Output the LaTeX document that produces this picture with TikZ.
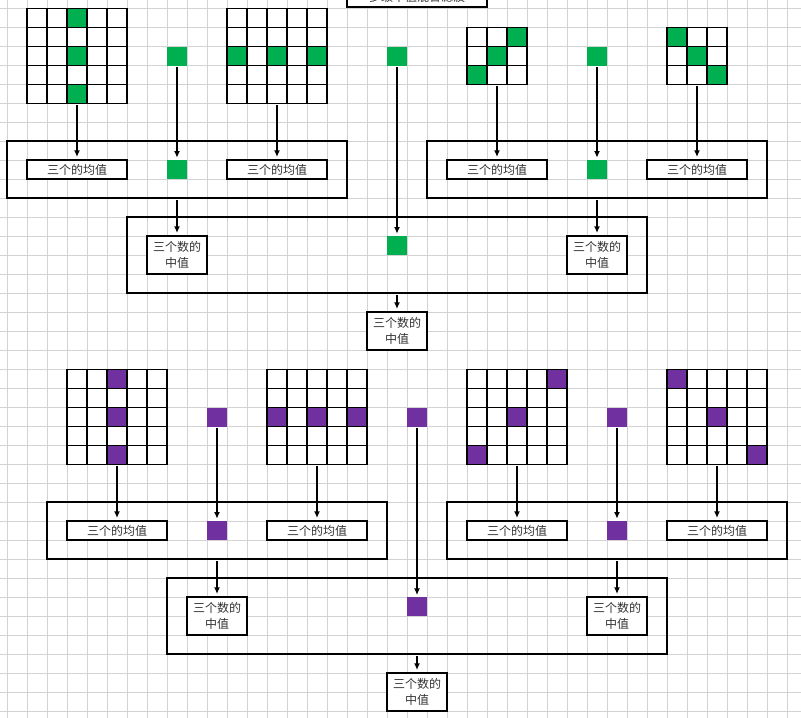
\documentclass[tikz,border=0pt]{standalone}
\usepackage{fontspec}
\newfontfamily\cjk{Noto Sans CJK SC}
\usetikzlibrary{arrows.meta}
\definecolor{grn}{HTML}{00B050}
\definecolor{pur}{HTML}{7030A0}
\definecolor{txt}{HTML}{333333}
\definecolor{bggrid}{HTML}{D3D3D3}

\begin{document}
\begin{tikzpicture}[x=0.75pt,y=-0.75pt]
\tikzset{bg/.style={draw=bggrid,line width=0.75pt},
         cell/.style={draw,fill=white,line width=0.9pt},
         mat/.style={draw=none,inner sep=0pt},
         sq/.style={inner sep=0pt,minimum width=15pt,minimum height=14.25pt},
         frm/.style={draw,line width=1.5pt,inner sep=0pt},
         avg/.style={draw,fill=white,line width=1.5pt,inner sep=0pt,minimum width=75pt,minimum height=14.25pt,
                     font=\cjk\fontsize{9}{11}\selectfont,text=txt},
         med/.style={draw,fill=white,line width=1.5pt,inner sep=0pt,minimum width=45pt,minimum height=28.5pt,
                     align=center,font=\cjk\fontsize{9}{11.5}\selectfont,text=txt},
         arr/.style={-{Latex[length=5pt,width=4.5pt]},line width=1.4pt,shorten <=1pt,shorten >=1.5pt}}
\clip (0,0) rectangle (801,718);
% background grid
\foreach \k in {0,...,39} \draw[bg] ({7+20*\k},0) -- ({7+20*\k},718);
\foreach \k in {0,...,37} \draw[bg] (0,{8.3+19*\k}) -- (801,{8.3+19*\k});

\node[frm,fill=white,minimum width=105pt,minimum height=15pt,font=\cjk\fontsize{9}{11}\selectfont,text=txt] (title) at (417,-3) {多级中值混合滤波};

% windows
\foreach \x/\y/\n in {27/8.3/5,227/8.3/5,467/27.3/3,667/27.3/3,67/369.3/5,267/369.3/5,467/369.3/5,667/369.3/5}
  \foreach \i in {1,...,\n} \foreach \j in {1,...,\n}
    \draw[cell] ({\x+20*(\i-1)},{\y+19*(\j-1)}) rectangle ++(20,19);
\foreach \x/\y in {67/8.3,67/46.3,67/84.3,227/46.3,267/46.3,307/46.3,507/27.3,487/46.3,467/65.3,667/27.3,687/46.3,707/65.3}
  \draw[cell,fill=grn] (\x,\y) rectangle ++(20,19);
\foreach \x/\y in {107/369.3,107/407.3,107/445.3,267/407.3,307/407.3,347/407.3,547/369.3,507/407.3,467/445.3,667/369.3,707/407.3,747/445.3}
  \draw[cell,fill=pur] (\x,\y) rectangle ++(20,19);
\node[mat,minimum width=75pt,minimum height=71.25pt] (m1) at (77,55.8) {};
\node[mat,minimum width=75pt,minimum height=71.25pt] (m2) at (277,55.8) {};
\node[mat,minimum width=45pt,minimum height=42.75pt] (m3) at (497,55.8) {};
\node[mat,minimum width=45pt,minimum height=42.75pt] (m4) at (697,55.8) {};
\node[mat,minimum width=75pt,minimum height=71.25pt] (m5) at (117,416.8) {};
\node[mat,minimum width=75pt,minimum height=71.25pt] (m6) at (317,416.8) {};
\node[mat,minimum width=75pt,minimum height=71.25pt] (m7) at (517,416.8) {};
\node[mat,minimum width=75pt,minimum height=71.25pt] (m8) at (717,416.8) {};

% upper half
\node[sq,fill=grn] (q1) at (177,56.2) {};
\node[sq,fill=grn] (q2) at (397,56.2) {};
\node[sq,fill=grn] (q3) at (597,56.2) {};
\node[frm,minimum width=255pt,minimum height=42.75pt] (f1) at (177,169.5) {};
\node[frm,minimum width=255pt,minimum height=42.75pt] (f2) at (597,169.5) {};
\node[avg] (a1) at (77,169.5) {三个的均值};
\node[sq,fill=grn] (s1) at (177,169.5) {};
\node[avg] (a2) at (277,169.5) {三个的均值};
\node[avg] (a3) at (497,169.5) {三个的均值};
\node[sq,fill=grn] (s2) at (597,169.5) {};
\node[avg] (a4) at (697,169.5) {三个的均值};
\node[frm,minimum width=390pt,minimum height=57pt] (g1) at (387,255) {};
\node[med] (d1) at (177,255) {三个数的\\中值};
\node[sq,fill=grn] (s3) at (397,245.5) {};
\node[med] (d2) at (597,255) {三个数的\\中值};
\node[med] (e1) at (397,331) {三个数的\\中值};
\draw[arr] (m1) -- (a1);
\draw[arr] (q1) -- (s1);
\draw[arr] (m2) -- (a2);
\draw[arr] (m3) -- (a3);
\draw[arr] (q3) -- (s2);
\draw[arr] (m4) -- (a4);
\draw[arr] (f1) -- (d1);
\draw[arr] (q2) -- (s3);
\draw[arr] (f2) -- (d2);
\draw[arr] (g1.south -| e1) -- (e1);

% lower half
\node[sq,fill=pur] (p1) at (217,417.2) {};
\node[sq,fill=pur] (p2) at (417,417.2) {};
\node[sq,fill=pur] (p3) at (617,417.2) {};
\node[frm,minimum width=255pt,minimum height=42.75pt] (h1) at (217,530.5) {};
\node[frm,minimum width=255pt,minimum height=42.75pt] (h2) at (617,530.5) {};
\node[avg] (b1) at (117,530.5) {三个的均值};
\node[sq,fill=pur] (r1) at (217,530.5) {};
\node[avg] (b2) at (317,530.5) {三个的均值};
\node[avg] (b3) at (517,530.5) {三个的均值};
\node[sq,fill=pur] (r2) at (617,530.5) {};
\node[avg] (b4) at (717,530.5) {三个的均值};
\node[frm,minimum width=375pt,minimum height=57pt] (g2) at (417,616) {};
\node[med] (c1) at (217,616) {三个数的\\中值};
\node[sq,fill=pur] (r3) at (417,606.8) {};
\node[med] (c2) at (617,616) {三个数的\\中值};
\node[med] (e2) at (417,692) {三个数的\\中值};
\draw[arr] (m5) -- (b1);
\draw[arr] (p1) -- (r1);
\draw[arr] (m6) -- (b2);
\draw[arr] (m7) -- (b3);
\draw[arr] (p3) -- (r2);
\draw[arr] (m8) -- (b4);
\draw[arr] (h1) -- (c1);
\draw[arr] (p2) -- (r3);
\draw[arr] (h2) -- (c2);
\draw[arr] (g2) -- (e2);
\end{tikzpicture}
\end{document}
